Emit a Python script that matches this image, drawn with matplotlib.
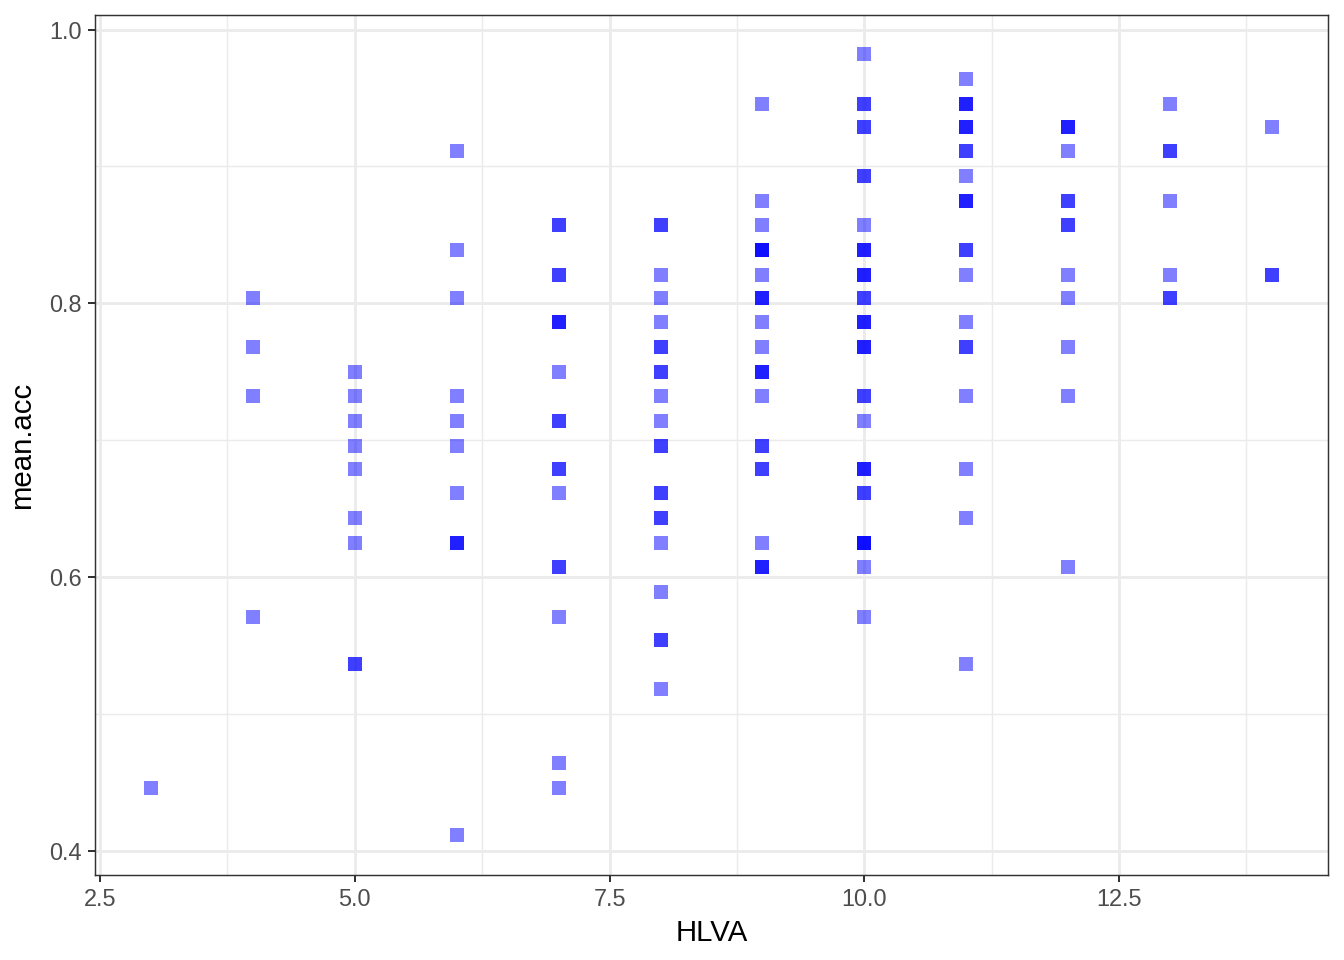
import matplotlib
matplotlib.use("Agg")
import matplotlib.pyplot as plt

plt.rcParams['font.family'] = ['Liberation Sans', 'DejaVu Sans']

# one entry per observation (repeats = overlapping points)
hlva = ([3] + [4] * 4 + [5] * 9 + [6] * 11 + [7] * 18 + [8] * 22 + [9] * 25
        + [10] * 36 + [11] * 23 + [12] * 13 + [13] * 7 + [14] * 3)

mean_acc = [
    # 3
    0.446,
    # 4
    0.804, 0.768, 0.732, 0.571,
    # 5
    0.750, 0.732, 0.714, 0.696, 0.679, 0.643, 0.625, 0.536, 0.536,
    # 6
    0.911, 0.839, 0.804, 0.732, 0.714, 0.696, 0.661, 0.625, 0.625, 0.625, 0.411,
    # 7
    0.857, 0.857, 0.821, 0.821, 0.786, 0.786, 0.786, 0.750, 0.714, 0.714,
    0.679, 0.679, 0.661, 0.607, 0.607, 0.571, 0.464, 0.446,
    # 8
    0.857, 0.857, 0.821, 0.804, 0.786, 0.768, 0.768, 0.750, 0.750, 0.732, 0.714,
    0.696, 0.696, 0.661, 0.661, 0.643, 0.643, 0.625, 0.589, 0.554, 0.554, 0.518,
    # 9
    0.946, 0.875, 0.857, 0.839, 0.839, 0.839, 0.839, 0.821, 0.804, 0.804, 0.804,
    0.786, 0.768, 0.750, 0.750, 0.750, 0.732, 0.696, 0.696, 0.679, 0.679, 0.625,
    0.607, 0.607, 0.607,
    # 10
    0.982, 0.946, 0.946, 0.929, 0.929, 0.893, 0.893, 0.857, 0.839, 0.839, 0.839,
    0.821, 0.821, 0.821, 0.804, 0.804, 0.786, 0.786, 0.786, 0.768, 0.768, 0.768,
    0.732, 0.732, 0.714, 0.679, 0.679, 0.679, 0.661, 0.661, 0.625, 0.625, 0.625,
    0.625, 0.607, 0.571,
    # 11
    0.964, 0.946, 0.946, 0.946, 0.929, 0.929, 0.929, 0.911, 0.911, 0.893, 0.875,
    0.875, 0.875, 0.839, 0.839, 0.821, 0.786, 0.768, 0.768, 0.732, 0.679, 0.643,
    0.536,
    # 12
    0.929, 0.929, 0.929, 0.911, 0.875, 0.875, 0.857, 0.857, 0.821, 0.804, 0.768,
    0.732, 0.607,
    # 13
    0.946, 0.911, 0.911, 0.875, 0.821, 0.804, 0.804,
    # 14
    0.929, 0.821, 0.821,
]

x_ticks = [2.5, 5.0, 7.5, 10.0, 12.5]
x_minor = [3.75, 6.25, 8.75, 11.25, 13.75]
y_ticks = [0.4, 0.6, 0.8, 1.0]
y_minor = [0.5, 0.7, 0.9]

fig = plt.figure(figsize=(7, 5), dpi=192)
ax = fig.add_axes([95 / 1344, 85 / 960, (1328 - 95) / 1344, (875 - 15) / 960])

ax.scatter(hlva, mean_acc, marker="s", s=28, color="blue", alpha=0.5,
           linewidths=0, zorder=3)

ax.set_xlim(2.45, 14.55)
ax.set_ylim(0.3821, 1.0107)
ax.set_xticks(x_ticks)
ax.set_xticklabels(["2.5", "5.0", "7.5", "10.0", "12.5"])
ax.set_yticks(y_ticks)
ax.set_yticklabels(["0.4", "0.6", "0.8", "1.0"])
ax.set_xticks(x_minor, minor=True)
ax.set_yticks(y_minor, minor=True)

ax.grid(True, which="major", color="#EBEBEB", linewidth=1.07, zorder=0)
ax.grid(True, which="minor", color="#EBEBEB", linewidth=0.53, zorder=0)
ax.set_axisbelow(True)
ax.tick_params(which="minor", length=0)
ax.tick_params(which="major", length=2.75, width=0.75, color="#333333",
               labelcolor="#4D4D4D", labelsize=8.8, pad=2.2)
for sp in ax.spines.values():
    sp.set_color("#333333")
    sp.set_linewidth(0.55)

ax.set_xlabel("HLVA", fontsize=11, labelpad=3)
ax.set_ylabel("mean.acc", fontsize=11, labelpad=5)

fig.savefig("out.png", dpi=192)
